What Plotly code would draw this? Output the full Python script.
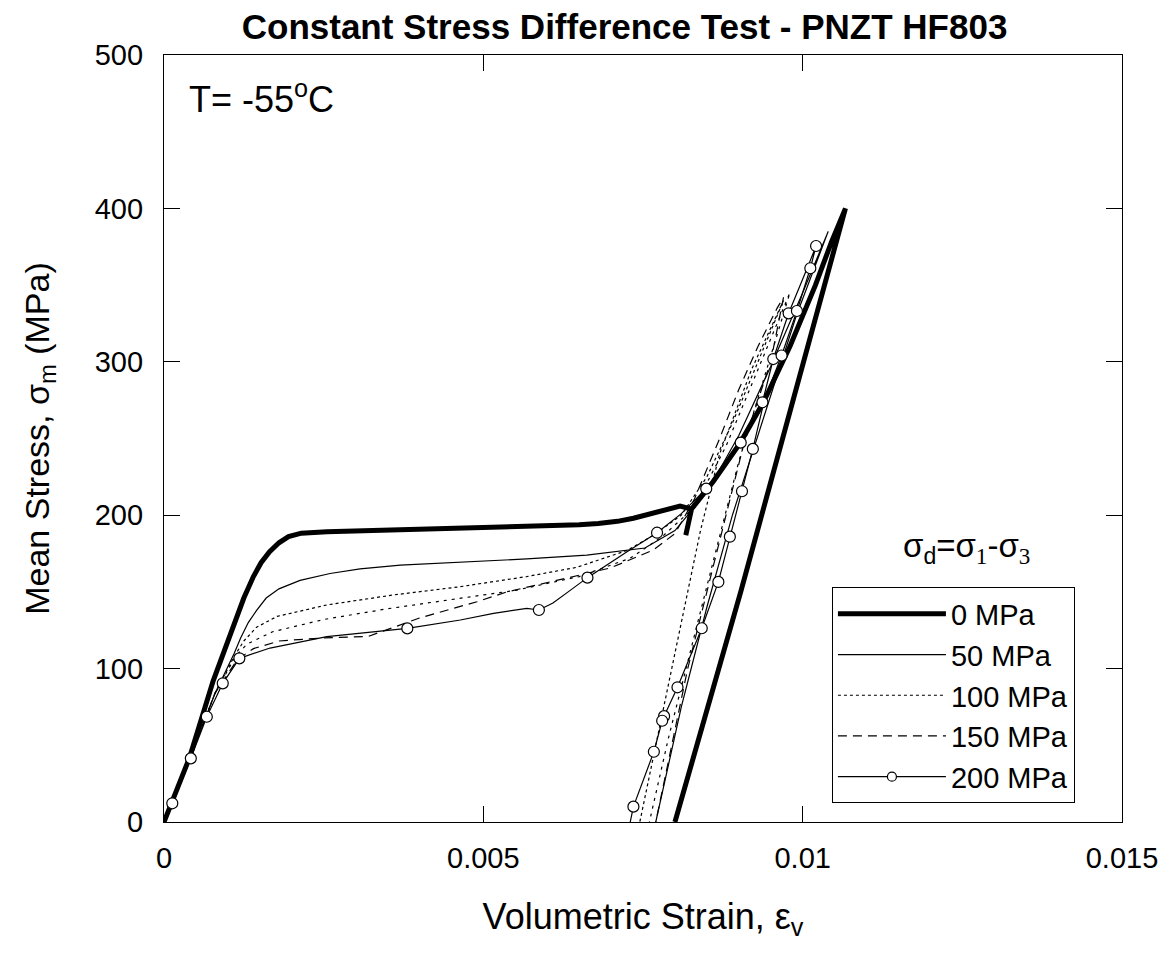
import plotly.graph_objects as go

# ---------------- data ----------------
x_0 = [0, 0.00040, 0.00077, 0.00110, 0.00125, 0.00140, 0.00152, 0.00165, 0.00180, 0.00195, 0.00215,
       0.00255, 0.0035, 0.0045, 0.00516, 0.0060, 0.0065, 0.0068, 0.0071, 0.00735, 0.0076,
       0.0079, 0.00808, 0.00826, 0.00817, 0.00826, 0.0086,
       0.00902, 0.00939, 0.0098, 0.0102, 0.01045, 0.01067, 0.00910, 0.00903, 0.0080]
y_0 = [0, 42, 92, 130, 146, 160, 169, 176, 182, 186, 188.3,
       189.2, 190.3, 191.2, 191.6, 193, 193.8, 194.6, 196, 198, 200.5,
       204, 206, 204, 187, 204, 222,
       247, 274, 310, 350, 378, 400, 160, 150, 0]

x_50 = [0, 0.00040, 0.00080, 0.00110, 0.00120, 0.00132, 0.00145, 0.00160, 0.00180, 0.00213, 0.0026,
        0.00307, 0.0037, 0.00443, 0.00568, 0.00662,
        0.00753, 0.0080, 0.0085, 0.0090, 0.0095, 0.0100, 0.0104,
        0.0099, 0.0094, 0.0089, 0.0085, 0.0081, 0.0077]
y_50 = [0, 41, 84, 110, 120, 130, 138, 146, 152, 157.5, 162,
        165, 167.5, 169, 171.5, 174,
        178.6, 190, 215, 252, 297, 345, 385,
        330, 265, 200, 140, 75, 0]

x_100 = [0, 0.00040, 0.00080, 0.00110, 0.00125, 0.00145, 0.00177, 0.00255, 0.00359, 0.00464, 0.00568,
         0.00646, 0.00725, 0.00767, 0.0081, 0.0085, 0.0089, 0.0093, 0.0096, 0.0097,
         0.0092, 0.0087, 0.0084, 0.0081, 0.0078, 0.00745]
y_100 = [0, 41, 84, 108, 118, 127, 134, 141.5, 148, 153.4, 160,
         166, 177, 187, 200, 225, 260, 300, 330, 340,
         295, 240, 190, 130, 70, 0]

x_100b = [0, 0.00040, 0.00080, 0.00112, 0.0013, 0.0017, 0.0025, 0.0035, 0.0045, 0.0055, 0.0065,
          0.0073, 0.0078, 0.0083, 0.0088, 0.0093, 0.0098,
          0.0094, 0.0090, 0.0086, 0.0082, 0.0079, 0.0076]
y_100b = [0, 41, 84, 108, 116, 124, 132, 139, 145, 151, 160,
          172, 186, 205, 245, 295, 345,
          290, 235, 170, 105, 55, 0]

x_150 = [0, 0.00040, 0.00080, 0.00115, 0.0014, 0.0018, 0.0025, 0.0032, 0.0040, 0.0049, 0.00537,
         0.0062, 0.00699, 0.00766, 0.0080, 0.0083, 0.0087, 0.0090, 0.0093, 0.0096, 0.0097,
         0.0095, 0.0091, 0.0088, 0.0085, 0.0082, 0.0080, 0.0077]
y_150 = [0, 41, 84, 106, 113, 118, 120, 121, 133, 143.6, 150,
         157.8, 165.6, 177.3, 188, 210, 250, 282, 310, 335, 342,
         300, 250, 200, 150, 100, 60, 0]

x_200 = [0, 0.00013, 0.00042, 0.00067, 0.00092, 0.00118, 0.00166, 0.00255, 0.00381, 0.00464, 0.00516,
         0.00568, 0.00587, 0.00609, 0.00636, 0.00663, 0.00725, 0.00772, 0.0081, 0.00849, 0.00903,
         0.00937, 0.00954, 0.00978, 0.01008, 0.01021,
         0.01012, 0.00991, 0.00967, 0.00940, 0.00922, 0.00905, 0.00886, 0.00868, 0.00842,
         0.00804, 0.00783, 0.00780, 0.00767, 0.00735, 0.0073]
y_200 = [0, 12.2, 41.5, 68.6, 90.4, 106.7, 113.4, 120.8, 126.2, 131.7, 136,
         139.3, 138.2, 142.8, 151, 159.3, 176.2, 188.6, 201, 217.3, 247.3,
         273.6, 301.8, 331.6, 362, 375.5,
         361, 333.1, 304.1, 275, 243.2, 215.6, 186, 156.5, 126.3,
         87.8, 69, 66, 45.8, 10, 0]

# circle marker positions on the 200 MPa curve
xm_200 = [0.00013, 0.00042, 0.00067, 0.00092, 0.00118, 0.00381, 0.00587, 0.00663, 0.00772, 0.00849,
          0.00903, 0.00937, 0.00954, 0.00978, 0.01021, 0.01012, 0.00991, 0.00967, 0.00922, 0.00905,
          0.00886, 0.00868, 0.00842, 0.00804, 0.00783, 0.00780, 0.00767, 0.00735]
ym_200 = [12.2, 41.5, 68.6, 90.4, 106.7, 126.2, 138.2, 159.3, 188.6, 217.3,
          247.3, 273.6, 301.8, 331.6, 375.5, 361, 333.1, 304.1, 243.2, 215.6,
          186, 156.5, 126.3, 87.8, 69, 66, 45.8, 10]

x_ticks = [0, 0.005, 0.01, 0.015]
x_tick_text = ["0", "0.005", "0.01", "0.015"]
y_ticks = [0, 100, 200, 300, 400, 500]

FONT = "Liberation Sans, Arial, sans-serif"

fig = go.Figure()

fig.add_trace(go.Scatter(x=x_50, y=y_50, mode="lines", name="50 MPa",
                         line=dict(color="black", width=1.2), legendrank=2))
fig.add_trace(go.Scatter(x=x_100, y=y_100, mode="lines", name="100 MPa",
                         line=dict(color="black", width=1.2, dash="dot"), legendrank=3))
fig.add_trace(go.Scatter(x=x_100b, y=y_100b, mode="lines", showlegend=False,
                         line=dict(color="black", width=1.2, dash="3px,5px")))
fig.add_trace(go.Scatter(x=x_150, y=y_150, mode="lines", name="150 MPa",
                         line=dict(color="black", width=1.2, dash="9px,6px"), legendrank=4))
fig.add_trace(go.Scatter(x=x_0, y=y_0, mode="lines", name="0 MPa",
                         line=dict(color="black", width=5), legendrank=1))
fig.add_trace(go.Scatter(x=x_200, y=y_200, mode="lines", showlegend=False,
                         line=dict(color="black", width=1.2)))
fig.add_trace(go.Scatter(x=xm_200, y=ym_200, mode="markers", showlegend=False,
                         marker=dict(symbol="circle", size=11, color="white",
                                     line=dict(color="black", width=1.2))))
fig.add_trace(go.Scatter(x=[None], y=[None], mode="lines+markers", name="200 MPa",
                         line=dict(color="black", width=1.2),
                         marker=dict(symbol="circle", size=9, color="white",
                                     line=dict(color="black", width=1.2)),
                         legendrank=5))

axis_common = dict(showline=True, linecolor="black", linewidth=1.2, mirror="ticks",
                   ticks="inside", ticklen=16, tickcolor="black", tickwidth=1.2,
                   showgrid=False, zeroline=False,
                   tickfont=dict(family=FONT, size=29, color="black"))

fig.update_layout(
    width=1174, height=955,
    paper_bgcolor="white", plot_bgcolor="white",
    margin=dict(l=164, r=52, t=55, b=133),
    font=dict(family=FONT, color="black"),
    title=dict(text="<b>Constant Stress Difference Test - PNZT HF803</b>",
               x=0.532, xanchor="center", y=0.972, yanchor="middle",
               font=dict(family=FONT, size=35, color="black")),
    xaxis=dict(range=[0, 0.015], tickvals=x_ticks, ticktext=x_tick_text,
               ticklabelstandoff=10,
               title=dict(text="Volumetric Strain, ε<sub>v</sub>", standoff=30,
                          font=dict(family=FONT, size=36, color="black")),
               **axis_common),
    yaxis=dict(range=[0, 500], tickvals=y_ticks, ticklabelstandoff=14,
               title=dict(text="Mean Stress, σ<sub>m</sub> (MPa)", standoff=34,
                          font=dict(family=FONT, size=34, color="black")),
               **axis_common),
    showlegend=True,
    legend=dict(x=0.697, y=0.306, xanchor="left", yanchor="top",
                bgcolor="white", bordercolor="black", borderwidth=1.2,
                font=dict(family=FONT, size=29, color="black"),
                itemwidth=108, tracegroupgap=0),
    annotations=[
        dict(text="T= -55<sup>o</sup>C", x=0.024, y=0.945, xref="paper", yref="paper",
             xanchor="left", yanchor="middle", showarrow=False,
             font=dict(family=FONT, size=36, color="black")),
        dict(text="σ<sub>d</sub>=σ<sub><span style='font-family:Liberation Serif'>1</span></sub>"
                  "-σ<sub><span style='font-family:Liberation Serif'>3</span></sub>",
             x=(966 - 164) / 958, y=(822 - 548) / 767, xref="paper", yref="paper",
             xanchor="center", yanchor="middle", showarrow=False,
             font=dict(family=FONT, size=33, color="black")),
    ],
)

fig.write_html("out.html")
